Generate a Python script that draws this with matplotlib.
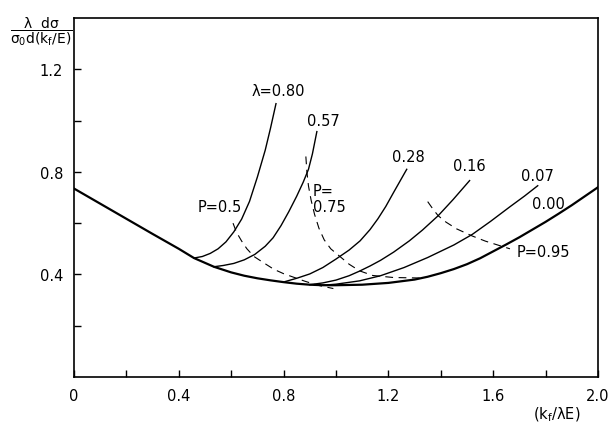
import numpy as np
import matplotlib
matplotlib.use('Agg')
import matplotlib.pyplot as plt

plt.rcParams['mathtext.default'] = 'regular'

# Curva envoltória (lambda = 0.00).
x_base = [0.0, 0.1, 0.2, 0.3, 0.4, 0.458, 0.534, 0.6, 0.65, 0.7, 0.75, 0.8, 0.85, 0.9, 0.95,
          1.0, 1.1, 1.2, 1.3, 1.35, 1.4, 1.45, 1.5, 1.55, 1.6, 1.65, 1.7, 1.75, 1.8, 1.85,
          1.9, 1.95, 2.0]
y_base = [0.735, 0.676, 0.617, 0.558, 0.5, 0.464, 0.43, 0.408, 0.395, 0.385, 0.377, 0.37,
          0.364, 0.36, 0.358, 0.358, 0.36, 0.367, 0.38, 0.391, 0.405, 0.421, 0.44, 0.463,
          0.49, 0.517, 0.545, 0.575, 0.605, 0.637, 0.67, 0.705, 0.74]

# Curvas para cada lambda.
x_080 = [0.458, 0.49, 0.52, 0.55, 0.58, 0.61, 0.64, 0.67, 0.70, 0.73, 0.75, 0.771]
y_080 = [0.464, 0.47, 0.482, 0.5, 0.527, 0.566, 0.616, 0.685, 0.78, 0.885, 0.97, 1.066]
x_057 = [0.534, 0.57, 0.61, 0.65, 0.69, 0.73, 0.76, 0.79, 0.82, 0.85, 0.875, 0.895, 0.91, 0.927]
y_057 = [0.43, 0.435, 0.443, 0.457, 0.478, 0.51, 0.543, 0.59, 0.645, 0.705, 0.76, 0.81,
         0.87, 0.957]
x_028 = [0.805, 0.85, 0.9, 0.95, 1.0, 1.05, 1.092, 1.13, 1.16, 1.19, 1.22, 1.245, 1.27]
y_028 = [0.372, 0.385, 0.402, 0.427, 0.46, 0.495, 0.531, 0.575, 0.617, 0.665, 0.72, 0.765, 0.81]
x_016 = [0.90, 0.95, 1.0, 1.05, 1.09, 1.13, 1.17, 1.22, 1.28, 1.33, 1.39, 1.447, 1.51]
y_016 = [0.36, 0.367, 0.378, 0.395, 0.413, 0.433, 0.455, 0.487, 0.531, 0.573, 0.629, 0.692, 0.766]
x_007 = [0.95, 1.0, 1.09, 1.17, 1.26, 1.35, 1.45, 1.52, 1.59, 1.664, 1.72, 1.77]
y_007 = [0.358, 0.362, 0.375, 0.395, 0.427, 0.466, 0.515, 0.556, 0.607, 0.664, 0.706, 0.746]

# Curvas tracejadas de P constante.
x_p050 = [0.607, 0.62, 0.64, 0.66, 0.687, 0.72, 0.763, 0.80, 0.836, 0.88, 0.93, 0.99]
y_p050 = [0.60, 0.565, 0.53, 0.50, 0.47, 0.448, 0.42, 0.403, 0.39, 0.374, 0.358, 0.345]
x_p075 = [0.885, 0.889, 0.895, 0.905, 0.918, 0.935, 0.955, 0.98, 1.015, 1.05, 1.09, 1.14,
          1.22, 1.33]
y_p075 = [0.86, 0.80, 0.745, 0.69, 0.635, 0.58, 0.535, 0.5, 0.47, 0.44, 0.414, 0.396,
          0.388, 0.386]
x_p095 = [1.35, 1.37, 1.39, 1.42, 1.46, 1.52, 1.57, 1.626, 1.664]
y_p095 = [0.684, 0.655, 0.629, 0.604, 0.578, 0.55, 0.53, 0.512, 0.50]

fig = plt.figure(figsize=(6.13, 4.27), dpi=100)
ax = fig.add_axes([0.1207, 0.1147, 0.8548, 0.8408])

ax.plot(x_base, y_base, color='black', lw=1.6)
for xs, ys in [(x_080, y_080), (x_057, y_057), (x_028, y_028), (x_016, y_016), (x_007, y_007)]:
    ax.plot(xs, ys, color='black', lw=1.0)
for xs, ys in [(x_p050, y_p050), (x_p075, y_p075), (x_p095, y_p095)]:
    ax.plot(xs, ys, color='black', lw=0.8, dashes=(7, 5))

# Rótulos das curvas.
fs = 10.5
ax.text(0.78, 1.117, 'λ=0.80', ha='center', va='center', fontsize=fs)
ax.text(0.95, 1.0, '0.57', ha='center', va='center', fontsize=fs)
ax.text(1.275, 0.86, '0.28', ha='center', va='center', fontsize=fs)
ax.text(1.51, 0.824, '0.16', ha='center', va='center', fontsize=fs)
ax.text(1.77, 0.785, '0.07', ha='center', va='center', fontsize=fs)
ax.text(1.81, 0.676, '0.00', ha='center', va='center', fontsize=fs)
ax.text(0.557, 0.664, 'P=0.5', ha='center', va='center', fontsize=fs)
ax.text(0.912, 0.695, 'P=\n0.75', ha='left', va='center', fontsize=fs, linespacing=1.1)
ax.text(1.79, 0.488, 'P=0.95', ha='center', va='center', fontsize=fs)

# Eixos.
ax.set_xlim(0, 2.0)
ax.set_ylim(0, 1.40)
ax.set_xticks(np.arange(0, 2.01, 0.2))
ax.set_xticklabels(['0', '', '0.4', '', '0.8', '', '1.2', '', '1.6', '', '2.0'])
ax.set_yticks([0.2, 0.4, 0.6, 0.8, 1.0, 1.2])
ax.set_yticklabels(['', '0.4', '', '0.8', '', '1.2'])
ax.tick_params(direction='in', length=5, width=1.0, labelsize=fs, pad=8)
for s in ax.spines.values():
    s.set_linewidth(1.2)

fig.text(0.068, 0.925, r'$\dfrac{\lambda\ \ d\sigma}{\sigma_0 d(k_f/E)}$', ha='center', va='center',
         fontsize=10)
fig.text(0.908, 0.028, r'(k$_f$/λE)', ha='center', va='center', fontsize=fs)

plt.savefig('out.png', dpi=100)
